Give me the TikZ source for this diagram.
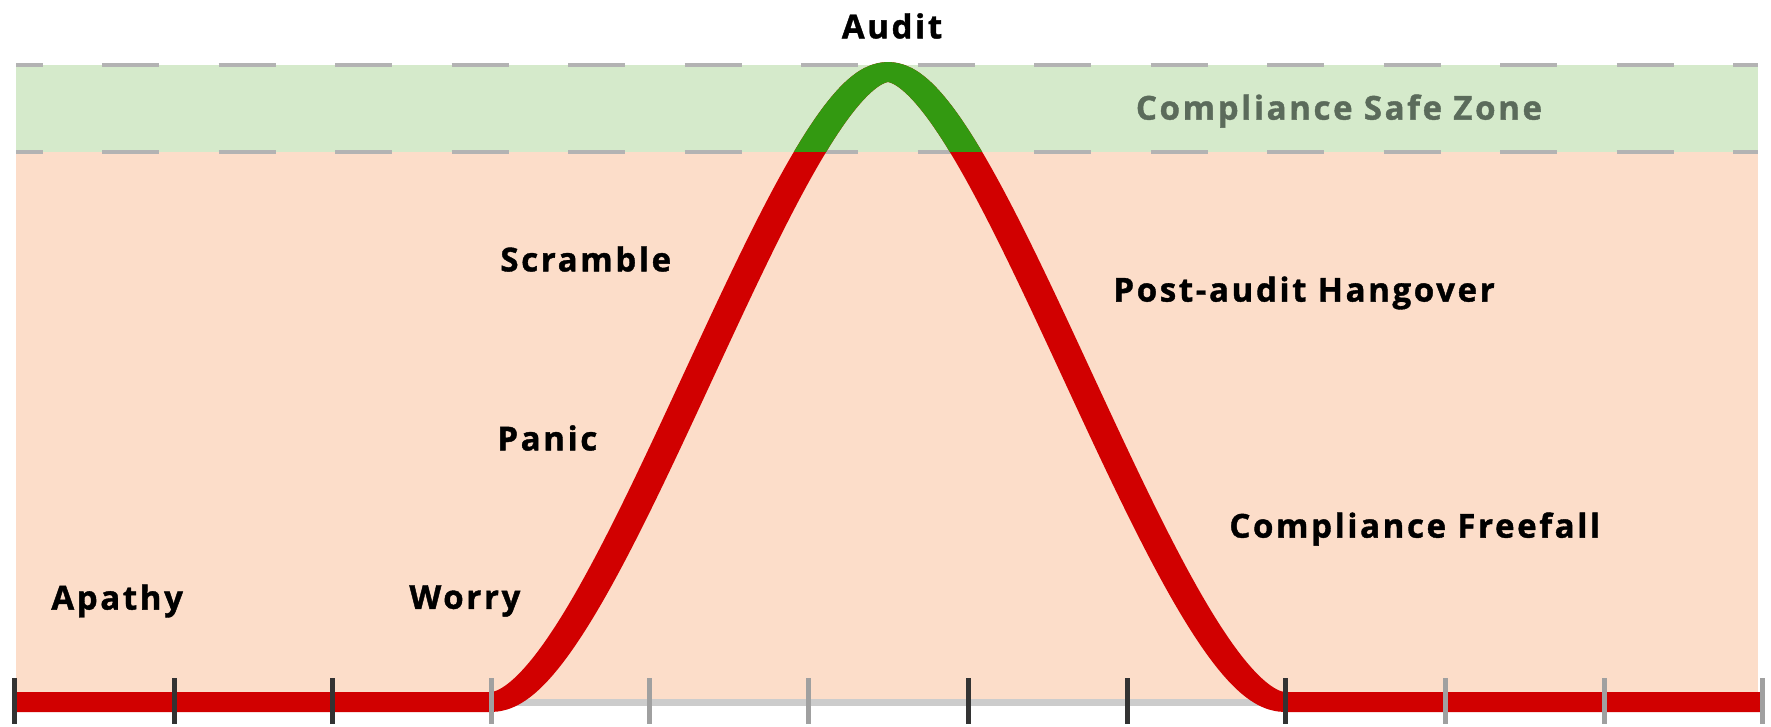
\documentclass[tikz,border=0pt]{standalone}
\usepackage{fontspec}
\setmainfont{Open Sans}
\newfontfamily\labelfont[LetterSpace=8,BoldFeatures={FakeBold=1.2}]{Open Sans}
\usepackage{tikz}
\usetikzlibrary{calc}

\definecolor{peach}{HTML}{FCDDC9}
\definecolor{bandgreen}{HTML}{D5EACB}
\definecolor{curvered}{HTML}{D10000}
\definecolor{curvegreen}{HTML}{339911}
\definecolor{zonetext}{HTML}{5B6B5B}
\definecolor{tickdark}{HTML}{333333}
\definecolor{tickgray}{HTML}{A0A0A0}

\begin{document}
\begin{tikzpicture}[
        x=0.5pt, y=-0.5pt,
        stagelabel/.style={anchor=west,font=\labelfont\fontsize{16.5}{18}\selectfont\bfseries,text=black,inner sep=0pt},
        zonelabel/.style={font=\labelfont\fontsize{16.5}{18}\selectfont\bfseries,text=zonetext,inner sep=0pt},
        bandline/.style={draw=tickgray!80,line width=2pt,dash pattern=on 28.5pt off 29.75pt,dash phase=15.25pt},
        curveline/.style={line width=10pt,line join=round},
        stretched/.style={x=0.33333pt,transform canvas={xscale=1.5}},
        tickmark/.style={line width=2.5pt},
        ]
        \useasboundingbox (0,0) rectangle (1771,727);

        % zones
        \fill[peach] (16,152) rectangle (1758,700);
        \fill[bandgreen] (16,65) rectangle (1758,152);
        \draw[bandline] (16,65) -- (1758,65);
        \draw[bandline] (16,152) -- (1758,152);
        \node[zonelabel](safezone) at (1339,111){Compliance Safe Zone};

        % baseline
        \draw[draw=black!20,line width=3.5pt] (491,702) -- (1285,702);

        % the curve, red below the safe zone
        \begin{scope}[stretched]
            \draw[curveline,curvered] (14,702) -- (491,702)
                .. controls (601,702) and (788,72) .. (888,72)
                .. controls (988,72) and (1175,702) .. (1285,702)
                -- (1762,702);
            \clip (0,0) rectangle (1771,152);
            \draw[curveline,curvegreen] (491,702)
                .. controls (601,702) and (788,72) .. (888,72)
                .. controls (988,72) and (1175,702) .. (1285,702);
        \end{scope}

        % ticks
        \foreach \x/\c in {14/tickdark,174/tickdark,332/tickdark,491/tickgray,649/tickgray,808/tickgray,
                           968/tickdark,1127/tickdark,1285/tickdark,1445/tickgray,1604/tickgray,1762/tickgray}
            \draw[tickmark,\c] (\x,678) -- (\x,724);

        % stages
        \node[stagelabel,anchor=center](audit) at (892,26){Audit};
        \node[stagelabel](apathy) at (51,601){Apathy};
        \node[stagelabel](worry) at (409,601){Worry};
        \node[stagelabel](panic) at (497,438){Panic};
        \node[stagelabel](scramble) at (500,259){Scramble};
        \node[stagelabel](hangover) at (1113,293){Post-audit Hangover};
        \node[stagelabel](freefall) at (1229,529){Compliance Freefall};
\end{tikzpicture}
\end{document}
